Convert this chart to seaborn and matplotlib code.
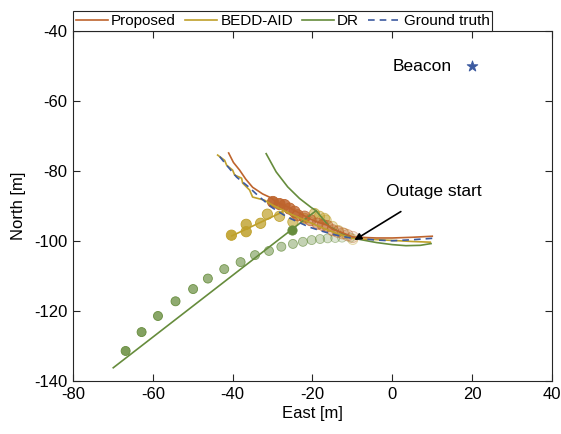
import numpy as np
import pandas as pd
import seaborn as sns
import matplotlib.pyplot as plt
from matplotlib.colors import to_rgba

# ---------------------------------------------------------------
# data
# ---------------------------------------------------------------
gt_x = [10, 5, 0, -4, -8, -10, -14, -17.5, -20.75, -23.5, -26.5, -30, -33.25, -36, -39, -41.5, -43.75]
gt_y = [-99.2, -99.6, -99.9, -99.7, -99.3, -99.2, -98.3, -97.2, -96, -94.6, -93, -90.5, -87.4, -84.5, -81.7, -78.3, -75.1]

prop_x = [10, 5, 0, -4, -8.25, -9.9, -12.5, -14.9, -16.5, -18.7, -20.3, -23.25, -26, -29, -30.25,
          -32.5, -35, -36.7, -38.25, -39.8, -41]
prop_y = [-98.6, -98.9, -99.1, -99.1, -98.9, -98.8, -97.6, -96.6, -95.3, -94.6, -93.8, -92, -90.3, -88.9, -87.7,
          -86.5, -84.6, -82.3, -79.7, -77.5, -74.8]

bedd_x = [9.5, 5, 0, -5, -8.25, -10, -13, -16, -19, -22, -25, -28, -30, -32, -35, -35.75, -37.5, -37.75,
          -39.5, -40, -41.5, -42, -43.75]
bedd_y = [-100.3, -100.1, -99.8, -99.5, -99.4, -99.2, -98.2, -96.9, -95.5, -94, -92.5, -90.8, -89.7, -88.3,
          -87.4, -85.4, -83.4, -82, -81.1, -79.7, -78.3, -76.9, -75.4]
bedd_branch_x = [-27.4, -40.2]
bedd_branch_y = [-91.6, -98.5]

dr_x = [9.7, 7, 3.4, 0, -4, -8.25, -11.6, -15.75, -19.1, -20.3, -23.25, -26.2, -29.1, -31.6]
dr_y = [-100.7, -101.2, -101.3, -101, -100.4, -99.5, -98.3, -95.9, -91.3, -90.4, -87.8, -84.5, -80.2, -75]
dr_branch_x = [-19.1, -69.9]
dr_branch_y = [-91.3, -136.2]

# predicted positions after the outage (ordered from outage start outwards)
prop_dot_x = [-9.9, -11.2, -12.4, -13.7, -14.9, -16.25, -17.4, -18.7, -20.5, -22, -23.7, -24.5, -25.75,
              -27, -28.25, -29.9]
prop_dot_y = [-98.8, -98.3, -97.8, -97.3, -96.9, -95.7, -95.4, -95, -94, -93, -92.6, -91.6, -90.7,
              -89.7, -89.4, -88.8]

bedd_dot_x = [-9.9, -12, -13.5, -15, -16.6, -17, -18.25, -19.5, -22, -24.9, -28.25, -31.3, -33, -36.6, -36.6, -40.3]
bedd_dot_y = [-99.5, -97.8, -97, -95.8, -94, -93.5, -92.9, -92.1, -93.5, -94.5, -92.9, -92.3, -94.9, -95.2, -97.3, -98.3]

dr_dot_x = [-10.5, -12.6, -14.3, -16.2, -18.1, -20.2, -22.4, -24.9, -27.8, -30.9, -34.4, -38, -42.1, -46.2,
            -49.9, -54.3, -58.7, -62.8, -66.8]
dr_dot_y = [-99, -99, -99.1, -99.2, -99.4, -99.7, -100.2, -100.8, -101.6, -102.8, -104, -106, -108, -110.7,
            -113.7, -117.2, -121.4, -126, -131.4]
dr_mark_x = [-25.2]
dr_mark_y = [-96.7]

beacon_x, beacon_y = [20], [-50]

c_prop = '#BE642D'
c_bedd = '#BFA02A'
c_dr = '#668C3C'
c_gt = '#3C5AA0'

plt.rcParams['font.family'] = ['Liberation Sans', 'DejaVu Sans']
plt.rcParams['axes.unicode_minus'] = False

fig = plt.figure(figsize=(5.61, 4.34), dpi=100)
ax = fig.add_axes([0.130, 0.122, 0.854, 0.806])


def line(x, y, color, ls='-'):
    d = pd.DataFrame({'x': x, 'y': y})
    sns.lineplot(data=d, x='x', y='y', sort=False, estimator=None, color=color, lw=1.2,
                 linestyle=ls, ax=ax, legend=False)


def dots(x, y, color, a0, a1, size):
    d = pd.DataFrame({'x': x, 'y': y})
    sns.scatterplot(data=d, x='x', y='y', ax=ax, s=size, legend=False)
    coll = ax.collections[-1]
    alphas = np.linspace(a0, a1, len(x))
    coll.set_facecolor([to_rgba(color, a) for a in alphas])
    coll.set_edgecolor([to_rgba(color, min(1, a + 0.25)) for a in alphas])
    coll.set_linewidth(0.6)


line(dr_x, dr_y, c_dr)
line(dr_branch_x, dr_branch_y, c_dr)
line(bedd_x, bedd_y, c_bedd)
line(bedd_branch_x, bedd_branch_y, c_bedd)
line(prop_x, prop_y, c_prop)

dots(dr_dot_x, dr_dot_y, c_dr, 0.15, 0.85, 42)
dots(bedd_dot_x, bedd_dot_y, c_bedd, 0.15, 0.9, 55)
dots(prop_dot_x, prop_dot_y, c_prop, 0.15, 0.95, 65)
sns.scatterplot(x=dr_mark_x, y=dr_mark_y, color=c_dr, s=45, edgecolor=c_dr, ax=ax, legend=False)

line(gt_x, gt_y, c_gt, ls=(0, (4, 3)))

sns.scatterplot(x=beacon_x, y=beacon_y, marker='*', color=c_gt, s=65, edgecolor=c_gt, ax=ax, legend=False)
ax.text(0, -50, 'Beacon', fontsize=12.5, va='center', ha='left')

ax.annotate('Outage start', xy=(-9.5, -99.7), xytext=(-1.5, -85.7), fontsize=12.5, va='center', ha='left',
            arrowprops=dict(arrowstyle='-|>', color='black', lw=1.2, shrinkA=14, shrinkB=0,
                            mutation_scale=10))

ax.set_xlim(-80, 40)
ax.set_ylim(-140, -40)
ax.set_xticks(np.arange(-80, 41, 20))
ax.set_yticks(np.arange(-140, -39, 20))
ax.set_xlabel('East [m]', fontsize=12, labelpad=3)
ax.set_ylabel('North [m]', fontsize=12, labelpad=6)
ax.tick_params(direction='in', top=True, right=True, length=5, width=0.8, labelsize=12, colors='#262626',
               pad=4)
ax.tick_params(labelcolor='black')
for s in ax.spines.values():
    s.set_color('#262626')
    s.set_linewidth(0.8)

handles = [
    plt.Line2D([], [], color=c_prop, lw=1.2),
    plt.Line2D([], [], color=c_bedd, lw=1.2),
    plt.Line2D([], [], color=c_dr, lw=1.2),
    plt.Line2D([], [], color=c_gt, lw=1.2, linestyle=(0, (4, 3))),
]
leg = ax.legend(handles, ['Proposed', 'BEDD-AID', 'DR', 'Ground truth'], ncol=4, loc='lower left',
                bbox_to_anchor=(0, 1.0), borderaxespad=0, fontsize=11, frameon=True, fancybox=False,
                framealpha=1, edgecolor='#262626', handlelength=2.1, handletextpad=0.2,
                columnspacing=0.6, borderpad=0.2)
leg.get_frame().set_linewidth(0.8)

fig.savefig('out.png', dpi=100)
